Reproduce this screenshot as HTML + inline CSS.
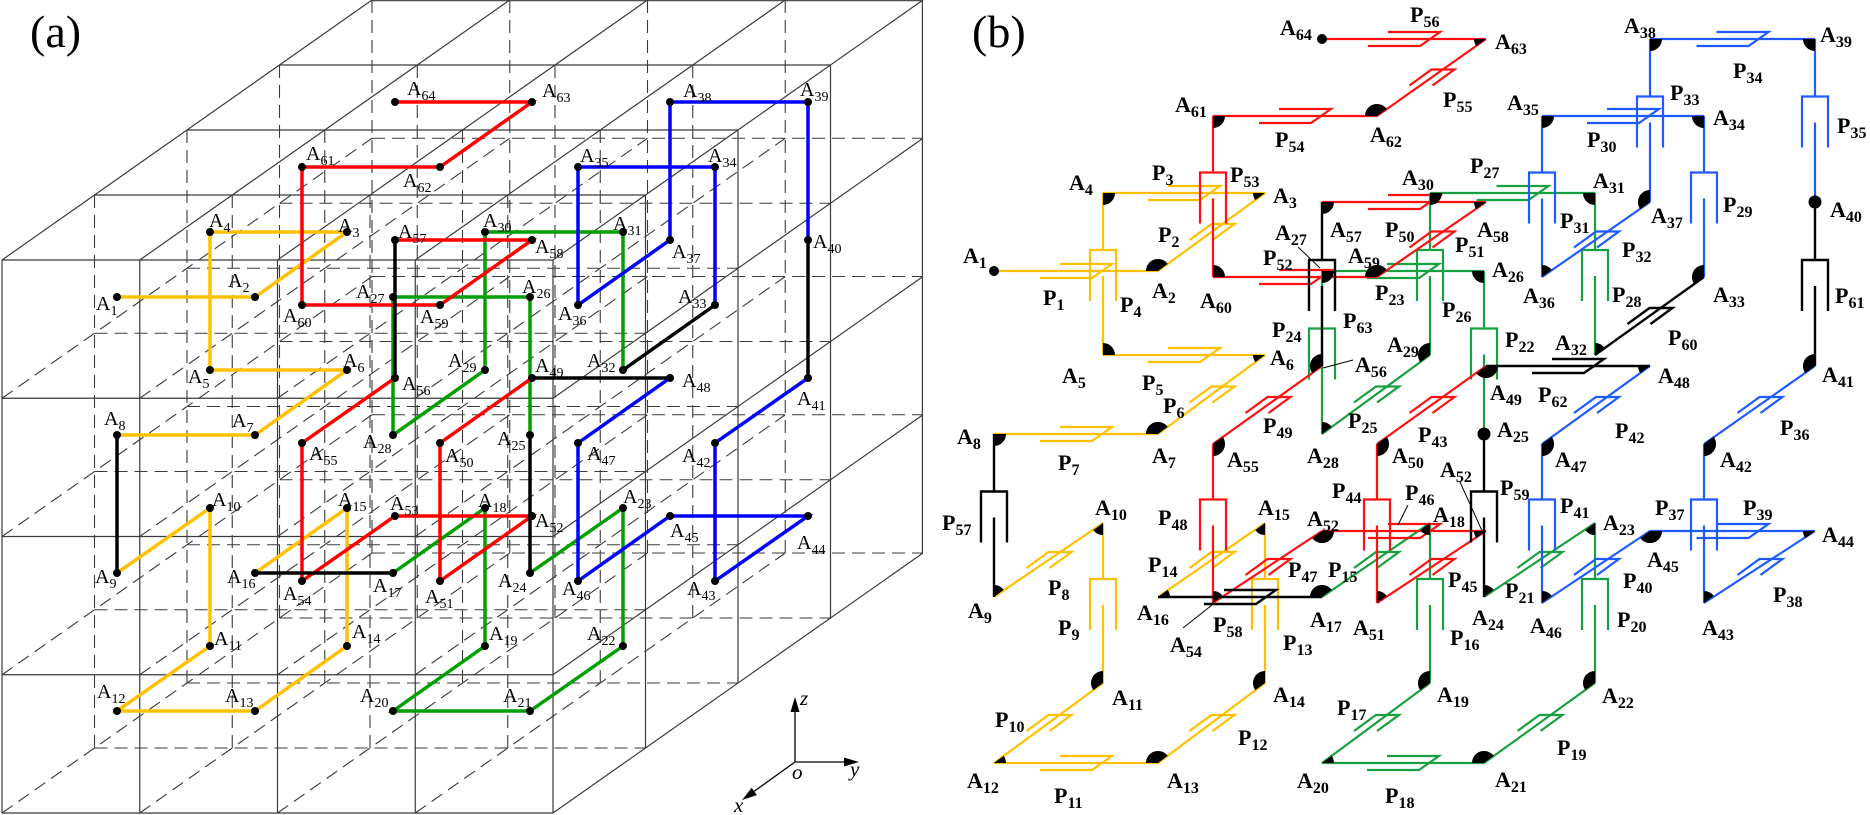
<!DOCTYPE html>
<html>
<head>
<meta charset="utf-8">
<style>
html,body{margin:0;padding:0;background:#fff;}
svg{display:block;}
.a{font-family:"Liberation Serif",serif;font-size:20px;fill:#000;}
.a tspan{font-size:14px;}
.b{font-family:"Liberation Serif",serif;font-size:22px;font-weight:bold;fill:#000;}
.b tspan{font-size:16px;}
.ax{font-family:"Liberation Serif",serif;font-size:21px;font-style:italic;fill:#000;}
.pl{font-family:"Liberation Serif",serif;font-size:46px;fill:#000;}
</style>
</head>
<body>
<svg width="1870" height="815" viewBox="0 0 1870 815" xmlns="http://www.w3.org/2000/svg">
<rect width="1870" height="815" fill="#fff"/>

<!-- ===== Panel (a) grid ===== -->
<g fill="none" stroke="#3a3a3a" stroke-width="1.1" stroke-dasharray="13 7">
<path d="M94.5 748H645.5M94.5 609.75H645.5M94.5 471.5H645.5M94.5 333.25H645.5
M187 683H738M187 544.75H738M187 406.5H738M187 268.25H738
M279.5 618H830.5M279.5 479.75H830.5M279.5 341.5H830.5M279.5 203.25H830.5
M372 553H923M372 414.75H923M372 276.5H923M372 138.25H923
M94.5 195V748M232.25 195V748M370 195V748M507.75 195V748
M187 130V683M324.75 130V683M462.5 130V683M600.25 130V683
M279.5 65V618M417.25 65V618M555 65V618M692.75 65V618
M372 0V553M509.75 0V553M647.5 0V553M785.25 0V553
M2 813l370 -260M2 674.75l370 -260M2 536.5l370 -260M2 398.25l370 -260
M139.75 813l370 -260M139.75 674.75l370 -260M139.75 536.5l370 -260M139.75 398.25l370 -260
M277.5 813l370 -260M277.5 674.75l370 -260M277.5 536.5l370 -260M277.5 398.25l370 -260
M415.25 813l370 -260M415.25 674.75l370 -260M415.25 536.5l370 -260M415.25 398.25l370 -260"/>
</g>
<g fill="none" stroke="#3a3a3a" stroke-width="1.2">
<path d="M2 260H553M2 398.25H553M2 536.5H553M2 674.75H553M2 813H553
M2 260V813M139.75 260V813M277.5 260V813M415.25 260V813M553 260V813
M94.5 195H645.5M187 130H738M279.5 65H830.5M372 0.7H923
M2 260l370 -260M139.75 260l370 -260M277.5 260l370 -260M415.25 260l370 -260M553 260l370 -260
M645.5 195V748M738 130V683M830.5 65V618M922.4 0V553
M553 813l370 -260M553 674.75l370 -260M553 536.5l370 -260M553 398.25l370 -260"/>
</g>

<!-- ===== Panel (a) paths ===== -->
<g fill="none" stroke-width="3.5" stroke-linejoin="miter">
<polyline stroke="#FFC000" points="117,297 255,297 347,232 210,232 210,370 347,370 255,435 117,435"/>
<polyline stroke="#FFC000" points="117,573 210,508 210,646 117,711 255,711 347,646 347,508 255,573"/>
<polyline stroke="#00A000" points="393,573 485,508 485,646 393,711 530,711 623,646 623,508 530,573"/>
<polyline stroke="#00A000" points="530,435 530,297 393,297 393,435 485,370 485,232 623,232 623,370"/>
<polyline stroke="#0000FF" points="715,305 715,167 578,167 578,305 670,240 670,102 808,102 808,240"/>
<polyline stroke="#0000FF" points="808,378 715,443 715,581 808,516 670,516 578,581 578,443 670,378"/>
<polyline stroke="#FF0000" points="532,378 440,443 440,581 532,516 395,516 302,581 302,443 395,378"/>
<polyline stroke="#FF0000" points="395,240 532,240 440,305 302,305 302,167 440,167 532,102 395,102"/>
<path stroke="#000" d="M117 435V573M255 573H393M530 573V435M623 370L715 305M808 240V378M670 378H532M395 378V240"/>
</g>
<g fill="#000">
<circle cx="117" cy="297" r="4"/><circle cx="255" cy="297" r="4"/><circle cx="347" cy="232" r="4"/><circle cx="210" cy="232" r="4"/>
<circle cx="210" cy="370" r="4"/><circle cx="347" cy="370" r="4"/><circle cx="255" cy="435" r="4"/><circle cx="117" cy="435" r="4"/>
<circle cx="117" cy="573" r="4"/><circle cx="210" cy="508" r="4"/><circle cx="210" cy="646" r="4"/><circle cx="117" cy="711" r="4"/>
<circle cx="255" cy="711" r="4"/><circle cx="347" cy="646" r="4"/><circle cx="347" cy="508" r="4"/><circle cx="255" cy="573" r="4"/>
<circle cx="393" cy="573" r="4"/><circle cx="485" cy="508" r="4"/><circle cx="485" cy="646" r="4"/><circle cx="393" cy="711" r="4"/>
<circle cx="530" cy="711" r="4"/><circle cx="623" cy="646" r="4"/><circle cx="623" cy="508" r="4"/><circle cx="530" cy="573" r="4"/>
<circle cx="530" cy="435" r="4"/><circle cx="530" cy="297" r="4"/><circle cx="393" cy="297" r="4"/><circle cx="393" cy="435" r="4"/>
<circle cx="485" cy="370" r="4"/><circle cx="485" cy="232" r="4"/><circle cx="623" cy="232" r="4"/><circle cx="623" cy="370" r="4"/>
<circle cx="715" cy="305" r="4"/><circle cx="715" cy="167" r="4"/><circle cx="578" cy="167" r="4"/><circle cx="578" cy="305" r="4"/>
<circle cx="670" cy="240" r="4"/><circle cx="670" cy="102" r="4"/><circle cx="808" cy="102" r="4"/><circle cx="808" cy="240" r="4"/>
<circle cx="808" cy="378" r="4"/><circle cx="715" cy="443" r="4"/><circle cx="715" cy="581" r="4"/><circle cx="808" cy="516" r="4"/>
<circle cx="670" cy="516" r="4"/><circle cx="578" cy="581" r="4"/><circle cx="578" cy="443" r="4"/><circle cx="670" cy="378" r="4"/>
<circle cx="532" cy="378" r="4"/><circle cx="440" cy="443" r="4"/><circle cx="440" cy="581" r="4"/><circle cx="532" cy="516" r="4"/>
<circle cx="395" cy="516" r="4"/><circle cx="302" cy="581" r="4"/><circle cx="302" cy="443" r="4"/><circle cx="395" cy="378" r="4"/>
<circle cx="395" cy="240" r="4"/><circle cx="532" cy="240" r="4"/><circle cx="440" cy="305" r="4"/><circle cx="302" cy="305" r="4"/>
<circle cx="302" cy="167" r="4"/><circle cx="440" cy="167" r="4"/><circle cx="532" cy="102" r="4"/><circle cx="395" cy="102" r="4"/>
</g>

<!-- axes -->
<path d="M795 762V710M795 762H846M795 762L754 791.4" stroke="#000" stroke-width="1.3" fill="none"/>
<path d="M795 697l-4.5 15h9zM859 762l-15 -4.5v9zM742 800L756.9 795.1L751.7 787.7z" fill="#000"/>
<text class="ax" x="800" y="705">z</text>
<text class="ax" x="792" y="779">o</text>
<text class="ax" x="850" y="776">y</text>
<text class="ax" x="734" y="812">x</text>

<text class="pl" x="30" y="47">(a)</text>

<!-- Panel (a) labels -->
<g class="a">
<text x="96" y="310">A<tspan dy="5">1</tspan></text>
<text x="228" y="287">A<tspan dy="5">2</tspan></text>
<text x="338" y="232">A<tspan dy="5">3</tspan></text>
<text x="209" y="227">A<tspan dy="5">4</tspan></text>
<text x="188" y="383">A<tspan dy="5">5</tspan></text>
<text x="343" y="367">A<tspan dy="5">6</tspan></text>
<text x="232" y="427">A<tspan dy="5">7</tspan></text>
<text x="104" y="425">A<tspan dy="5">8</tspan></text>
<text x="95" y="583">A<tspan dy="5">9</tspan></text>
<text x="212" y="506">A<tspan dy="5">10</tspan></text>
<text x="214" y="645">A<tspan dy="5">11</tspan></text>
<text x="97" y="698">A<tspan dy="5">12</tspan></text>
<text x="225" y="702">A<tspan dy="5">13</tspan></text>
<text x="352" y="638">A<tspan dy="5">14</tspan></text>
<text x="338" y="506">A<tspan dy="5">15</tspan></text>
<text x="227" y="583">A<tspan dy="5">16</tspan></text>
<text x="373" y="592">A<tspan dy="5">17</tspan></text>
<text x="478" y="507">A<tspan dy="5">18</tspan></text>
<text x="489" y="640">A<tspan dy="5">19</tspan></text>
<text x="360" y="702">A<tspan dy="5">20</tspan></text>
<text x="503" y="702">A<tspan dy="5">21</tspan></text>
<text x="587" y="640">A<tspan dy="5">22</tspan></text>
<text x="623" y="503">A<tspan dy="5">23</tspan></text>
<text x="498" y="587">A<tspan dy="5">24</tspan></text>
<text x="497" y="445">A<tspan dy="5">25</tspan></text>
<text x="522" y="293">A<tspan dy="5">26</tspan></text>
<text x="356" y="298">A<tspan dy="5">27</tspan></text>
<text x="363" y="448">A<tspan dy="5">28</tspan></text>
<text x="448" y="367">A<tspan dy="5">29</tspan></text>
<text x="483" y="227">A<tspan dy="5">30</tspan></text>
<text x="613" y="230">A<tspan dy="5">31</tspan></text>
<text x="587" y="367">A<tspan dy="5">32</tspan></text>
<text x="678" y="303">A<tspan dy="5">33</tspan></text>
<text x="708" y="162">A<tspan dy="5">34</tspan></text>
<text x="580" y="162">A<tspan dy="5">35</tspan></text>
<text x="558" y="320">A<tspan dy="5">36</tspan></text>
<text x="672" y="258">A<tspan dy="5">37</tspan></text>
<text x="683" y="97">A<tspan dy="5">38</tspan></text>
<text x="800" y="96">A<tspan dy="5">39</tspan></text>
<text x="813" y="248">A<tspan dy="5">40</tspan></text>
<text x="797" y="405">A<tspan dy="5">41</tspan></text>
<text x="682" y="462">A<tspan dy="5">42</tspan></text>
<text x="687" y="595">A<tspan dy="5">43</tspan></text>
<text x="797" y="549">A<tspan dy="5">44</tspan></text>
<text x="670" y="537">A<tspan dy="5">45</tspan></text>
<text x="562" y="595">A<tspan dy="5">46</tspan></text>
<text x="587" y="460">A<tspan dy="5">47</tspan></text>
<text x="682" y="387">A<tspan dy="5">48</tspan></text>
<text x="535" y="372">A<tspan dy="5">49</tspan></text>
<text x="445" y="462">A<tspan dy="5">50</tspan></text>
<text x="425" y="603">A<tspan dy="5">51</tspan></text>
<text x="535" y="527">A<tspan dy="5">52</tspan></text>
<text x="390" y="510">A<tspan dy="5">53</tspan></text>
<text x="283" y="600">A<tspan dy="5">54</tspan></text>
<text x="309" y="460">A<tspan dy="5">55</tspan></text>
<text x="402" y="390">A<tspan dy="5">56</tspan></text>
<text x="398" y="238">A<tspan dy="5">57</tspan></text>
<text x="535" y="253">A<tspan dy="5">58</tspan></text>
<text x="420" y="323">A<tspan dy="5">59</tspan></text>
<text x="283" y="322">A<tspan dy="5">60</tspan></text>
<text x="306" y="160">A<tspan dy="5">61</tspan></text>
<text x="403" y="187">A<tspan dy="5">62</tspan></text>
<text x="542" y="97">A<tspan dy="5">63</tspan></text>
<text x="407" y="95">A<tspan dy="5">64</tspan></text>
</g>

<!-- ===== Panel (b) ===== -->
<text class="pl" x="972" y="47">(b)</text>

<!-- yellow -->
<g fill="none" stroke="#FFC000" stroke-width="2.2">
<path d="M994 271H1158M1158 271L1265 193M1265 193H1103M1103 193V250M1103 276V355M1103 355H1265M1265 355L1158 434M1158 434H994
M994 597L1103 523M1103 523V579M1103 605V683M1103 683L994 763M994 763H1158M1158 763L1265 683M1265 523V579M1265 605V683M1265 523L1158 597"/>
<path d="M1060 264H1112L1092 278H1040
M1189.5 240L1211.5 224H1234.5L1212.5 240
M1168 186H1220L1200 200H1148
M1090 301V250H1116V301
M1168 348H1220L1200 362H1148
M1189.5 402.5L1211.5 386.5H1234.5L1212.5 402.5
M1060 427H1112L1092 441H1040
M1026.5 568L1048.5 552H1071.5L1049.5 568
M1090 630V579H1116V630
M1026.5 731L1048.5 715H1071.5L1049.5 731
M1060 756H1112L1092 770H1040
M1189.5 731L1211.5 715H1234.5L1212.5 731
M1252 630V579H1278V630
M1189.5 568L1211.5 552H1234.5L1212.5 568"/>
</g>

<!-- green -->
<g fill="none" stroke="#18A040" stroke-width="2.2">
<path d="M1322 597L1430 523M1430 523V579M1430 605V683M1430 683L1322 763M1322 763H1484M1484 763L1595 683M1595 523V579M1595 605V683M1595 523L1484 597
M1484 271V328.5M1484 354.5V434M1484 271H1322M1322 271V328.5M1322 354.5V434M1322 434L1430 355M1430 193V250M1430 276V355M1430 193H1595M1595 193V250M1595 276V355"/>
<path d="M1354 568L1376 552H1399L1377 568
M1417 630V579H1443V630
M1354 731L1376 715H1399L1377 731
M1387 756H1439L1419 770H1367
M1517.5 731L1539.5 715H1562.5L1540.5 731
M1582 630V579H1608V630
M1517.5 568L1539.5 552H1562.5L1540.5 568
M1471 379.5V328.5H1497V379.5
M1387 264H1439L1419 278H1367
M1309 379.5V328.5H1335V379.5
M1354 402.5L1376 386.5H1399L1377 402.5
M1417 301V250H1443V301
M1496.5 186H1548.5L1528.5 200H1476.5
M1582 301V250H1608V301"/>
</g>

<!-- blue -->
<g fill="none" stroke="#1E5AFF" stroke-width="2.2">
<path d="M1704 116V172.5M1704 198.5V277M1704 116H1542M1542 116V172.5M1542 198.5V277M1542 277L1650 202M1650 39V96.5M1650 122.5V202M1650 39H1815M1815 39V96.5M1815 122.5V202
M1815 366L1704 444M1704 444V499.5M1704 525.5V603M1704 603L1815 531M1815 531H1650M1650 531L1542 603M1542 444V499.5M1542 525.5V603M1542 444L1650 366"/>
<path d="M1691 223.5V172.5H1717V223.5
M1607 109H1659L1639 123H1587
M1529 223.5V172.5H1555V223.5
M1574 247.5L1596 231.5H1619L1597 247.5
M1637 147.5V96.5H1663V147.5
M1716.5 32H1768.5L1748.5 46H1696.5
M1802 147.5V96.5H1828V147.5
M1737.5 413L1759.5 397H1782.5L1760.5 413
M1691 550.5V499.5H1717V550.5
M1737.5 575L1759.5 559H1782.5L1760.5 575
M1716.5 524H1768.5L1748.5 538H1696.5
M1574 575L1596 559H1619L1597 575
M1529 550.5V499.5H1555V550.5
M1574 413L1596 397H1619L1597 413"/>
</g>

<!-- red -->
<g fill="none" stroke="#FF1010" stroke-width="2.2">
<path d="M1486 366L1377 444M1377 444V499.5M1377 525.5V603M1377 603L1486 531M1486 531H1322M1322 531L1213 603M1213 444V499.5M1213 525.5V603M1213 444L1322 366
M1322 202H1486M1486 202L1377 277M1377 277H1213M1213 116V172.5M1213 198.5V277M1213 116H1377M1377 116L1486 39M1486 39H1322"/>
<path d="M1409.5 413L1431.5 397H1454.5L1432.5 413
M1364 550.5V499.5H1390V550.5
M1409.5 575L1431.5 559H1454.5L1432.5 575
M1388 524H1440L1420 538H1368
M1245.5 575L1267.5 559H1290.5L1268.5 575
M1200 550.5V499.5H1226V550.5
M1245.5 413L1267.5 397H1290.5L1268.5 413
M1388 195H1440L1420 209H1368
M1409.5 247.5L1431.5 231.5H1454.5L1432.5 247.5
M1279 270H1331L1311 284H1259
M1200 223.5V172.5H1226V223.5
M1279 109H1331L1311 123H1259
M1409.5 85.5L1431.5 69.5H1454.5L1432.5 85.5
M1388 32H1440L1420 46H1368"/>
</g>

<!-- black links & joints -->
<g fill="none" stroke="#000" stroke-width="2.4">
<path d="M994 434V491.5M994 517.5V597M1158 597H1322M1484 434V491.5M1484 517.5V597M1595 355L1704 277M1815 202V260M1815 286V366M1650 366H1486M1322 202V260M1322 286V366"/>
<path d="M981 542.5V491.5H1007V542.5
M1224 590H1276L1256 604H1204
M1471 542.5V491.5H1497V542.5
M1627.5 324L1649.5 308H1672.5L1650.5 324
M1802 311V260H1828V311
M1552 359H1604L1584 373H1532
M1309 311V260H1335V311"/>
</g>

<!-- leader lines -->
<path d="M1298 247L1320 268M1353 360L1323 368M1183 628L1212 605M1460 482L1483 533M1408 505L1398 525" stroke="#000" stroke-width="1" fill="none"/>

<!-- node markers -->
<g fill="#000">
<circle cx="994" cy="271" r="5"/>
<circle cx="1322" cy="39" r="5"/>
<circle cx="1484" cy="434" r="6.5"/>
<circle cx="1815" cy="202" r="6.5"/>
<path d="M1158 271l-12 0a12 12 0 0 1 21.7 -7.1z
M1265 193l-9.7 7.1a12 12 0 0 1 -2.3 -7.1z
M1103 193l12 0a12 12 0 0 1 -12 12z
M1103 355l0 -12a12 12 0 0 1 12 12z
M1265 355l-9.7 7.1a12 12 0 0 1 -2.3 -7.1z
M1158 434l-12 0a12 12 0 0 1 21.7 -7.1z
M994 434l12 0a12 12 0 0 1 -12 12z
M994 597l0 -12a12 12 0 0 1 9.7 4.9z
M1103 523l0 12a12 12 0 0 1 -9.7 -4.9z
M1103 683l-9.7 7.1a12 12 0 0 1 9.7 -19.1z
M994 763l9.7 -7.1a12 12 0 0 1 2.3 7.1z
M1158 763l-12 0a12 12 0 0 1 21.7 -7.1z
M1265 683l-9.7 7.1a12 12 0 0 1 9.7 -19.1z
M1265 523l0 12a12 12 0 0 1 -9.7 -4.9z
M1158 597l9.7 -7.1a12 12 0 0 1 2.3 7.1z
M1322 597l-12 0a12 12 0 0 1 21.7 -7.1z
M1430 523l0 12a12 12 0 0 1 -9.7 -4.9z
M1430 683l-9.7 7.1a12 12 0 0 1 9.7 -19.1z
M1322 763l9.7 -7.1a12 12 0 0 1 2.3 7.1z
M1484 763l-12 0a12 12 0 0 1 21.7 -7.1z
M1595 683l-9.7 7.1a12 12 0 0 1 9.7 -19.1z
M1595 523l0 12a12 12 0 0 1 -9.7 -4.9z
M1484 597l0 -12a12 12 0 0 1 9.7 4.9z
M1484 271l0 12a12 12 0 0 1 -12 -12z
M1322 271l12 0a12 12 0 0 1 -12 12z
M1322 434l0 -12a12 12 0 0 1 9.7 4.9z
M1430 355l-9.7 7.1a12 12 0 0 1 9.7 -19.1z
M1430 193l12 0a12 12 0 0 1 -12 12z
M1595 193l0 12a12 12 0 0 1 -12 -12z
M1595 355l0 -12a12 12 0 0 1 9.7 4.9z
M1704 277l-9.7 7.1a12 12 0 0 1 9.7 -19.1z
M1704 116l0 12a12 12 0 0 1 -12 -12z
M1542 116l12 0a12 12 0 0 1 -12 12z
M1542 277l0 -12a12 12 0 0 1 9.7 4.9z
M1650 202l-9.7 7.1a12 12 0 0 1 9.7 -19.1z
M1650 39l12 0a12 12 0 0 1 -12 12z
M1815 39l0 12a12 12 0 0 1 -12 -12z
M1815 366l-9.7 7.1a12 12 0 0 1 9.7 -19.1z
M1704 444l9.7 -7.1a12 12 0 0 1 -9.7 19.1z
M1704 603l0 -12a12 12 0 0 1 9.7 4.9z
M1815 531l-9.7 7.1a12 12 0 0 1 -2.3 -7.1z
M1650 531l12 0a12 12 0 0 1 -21.7 7.1z
M1542 603l0 -12a12 12 0 0 1 9.7 4.9z
M1542 444l9.7 -7.1a12 12 0 0 1 -9.7 19.1z
M1650 366l-9.7 7.1a12 12 0 0 1 -2.3 -7.1z
M1486 366l12 0a12 12 0 0 1 -21.7 7.1z
M1377 444l9.7 -7.1a12 12 0 0 1 -9.7 19.1z
M1377 603l0 -12a12 12 0 0 1 9.7 4.9z
M1486 531l-9.7 7.1a12 12 0 0 1 -2.3 -7.1z
M1322 531l12 0a12 12 0 0 1 -21.7 7.1z
M1213 603l0 -12a12 12 0 0 1 9.7 4.9z
M1213 444l9.7 -7.1a12 12 0 0 1 -9.7 19.1z
M1322 366l-9.7 7.1a12 12 0 0 1 9.7 -19.1z
M1322 202l12 0a12 12 0 0 1 -12 12z
M1486 202l-9.7 7.1a12 12 0 0 1 -2.3 -7.1z
M1377 277l-12 0a12 12 0 0 1 21.7 -7.1z
M1213 277l0 -12a12 12 0 0 1 12 12z
M1213 116l12 0a12 12 0 0 1 -12 12z
M1377 116l-12 0a12 12 0 0 1 21.7 -7.1z
M1486 39l-9.7 7.1a12 12 0 0 1 -2.3 -7.1z"/>
</g>

<!-- Panel (b) A labels -->
<g class="b">
<text x="963" y="263">A<tspan dy="5">1</tspan></text>
<text x="1152" y="298">A<tspan dy="5">2</tspan></text>
<text x="1273" y="203">A<tspan dy="5">3</tspan></text>
<text x="1069" y="190">A<tspan dy="5">4</tspan></text>
<text x="1062" y="383">A<tspan dy="5">5</tspan></text>
<text x="1270" y="365">A<tspan dy="5">6</tspan></text>
<text x="1152" y="463">A<tspan dy="5">7</tspan></text>
<text x="957" y="444">A<tspan dy="5">8</tspan></text>
<text x="968" y="618">A<tspan dy="5">9</tspan></text>
<text x="1095" y="515">A<tspan dy="5">10</tspan></text>
<text x="1112" y="705">A<tspan dy="5">11</tspan></text>
<text x="967" y="788">A<tspan dy="5">12</tspan></text>
<text x="1167" y="788">A<tspan dy="5">13</tspan></text>
<text x="1273" y="702">A<tspan dy="5">14</tspan></text>
<text x="1258" y="515">A<tspan dy="5">15</tspan></text>
<text x="1137" y="620">A<tspan dy="5">16</tspan></text>
<text x="1310" y="627">A<tspan dy="5">17</tspan></text>
<text x="1433" y="522">A<tspan dy="5">18</tspan></text>
<text x="1437" y="702">A<tspan dy="5">19</tspan></text>
<text x="1297" y="788">A<tspan dy="5">20</tspan></text>
<text x="1495" y="787">A<tspan dy="5">21</tspan></text>
<text x="1602" y="703">A<tspan dy="5">22</tspan></text>
<text x="1603" y="530">A<tspan dy="5">23</tspan></text>
<text x="1472" y="625">A<tspan dy="5">24</tspan></text>
<text x="1497" y="437">A<tspan dy="5">25</tspan></text>
<text x="1492" y="277">A<tspan dy="5">26</tspan></text>
<text x="1275" y="240">A<tspan dy="5">27</tspan></text>
<text x="1307" y="463">A<tspan dy="5">28</tspan></text>
<text x="1387" y="352">A<tspan dy="5">29</tspan></text>
<text x="1402" y="185">A<tspan dy="5">30</tspan></text>
<text x="1593" y="188">A<tspan dy="5">31</tspan></text>
<text x="1555" y="350">A<tspan dy="5">32</tspan></text>
<text x="1713" y="302">A<tspan dy="5">33</tspan></text>
<text x="1713" y="125">A<tspan dy="5">34</tspan></text>
<text x="1507" y="110">A<tspan dy="5">35</tspan></text>
<text x="1523" y="303">A<tspan dy="5">36</tspan></text>
<text x="1651" y="223">A<tspan dy="5">37</tspan></text>
<text x="1624" y="33">A<tspan dy="5">38</tspan></text>
<text x="1820" y="42">A<tspan dy="5">39</tspan></text>
<text x="1830" y="217">A<tspan dy="5">40</tspan></text>
<text x="1822" y="382">A<tspan dy="5">41</tspan></text>
<text x="1720" y="467">A<tspan dy="5">42</tspan></text>
<text x="1702" y="635">A<tspan dy="5">43</tspan></text>
<text x="1822" y="542">A<tspan dy="5">44</tspan></text>
<text x="1647" y="567">A<tspan dy="5">45</tspan></text>
<text x="1530" y="633">A<tspan dy="5">46</tspan></text>
<text x="1555" y="467">A<tspan dy="5">47</tspan></text>
<text x="1658" y="383">A<tspan dy="5">48</tspan></text>
<text x="1490" y="400">A<tspan dy="5">49</tspan></text>
<text x="1392" y="463">A<tspan dy="5">50</tspan></text>
<text x="1353" y="635">A<tspan dy="5">51</tspan></text>
<text x="1440" y="477">A<tspan dy="5">52</tspan></text>
<text x="1307" y="526">A<tspan dy="5">52</tspan></text>
<text x="1170" y="652">A<tspan dy="5">54</tspan></text>
<text x="1227" y="467">A<tspan dy="5">55</tspan></text>
<text x="1355" y="372">A<tspan dy="5">56</tspan></text>
<text x="1330" y="237">A<tspan dy="5">57</tspan></text>
<text x="1477" y="237">A<tspan dy="5">58</tspan></text>
<text x="1348" y="263">A<tspan dy="5">59</tspan></text>
<text x="1200" y="308">A<tspan dy="5">60</tspan></text>
<text x="1175" y="112">A<tspan dy="5">61</tspan></text>
<text x="1370" y="142">A<tspan dy="5">62</tspan></text>
<text x="1495" y="49">A<tspan dy="5">63</tspan></text>
<text x="1280" y="35">A<tspan dy="5">64</tspan></text>
</g>

<!-- Panel (b) P labels -->
<g class="b">
<text x="1043" y="305">P<tspan dy="5">1</tspan></text>
<text x="1158" y="242">P<tspan dy="5">2</tspan></text>
<text x="1152" y="180">P<tspan dy="5">3</tspan></text>
<text x="1120" y="312">P<tspan dy="5">4</tspan></text>
<text x="1142" y="390">P<tspan dy="5">5</tspan></text>
<text x="1163" y="413">P<tspan dy="5">6</tspan></text>
<text x="1058" y="470">P<tspan dy="5">7</tspan></text>
<text x="1048" y="595">P<tspan dy="5">8</tspan></text>
<text x="1058" y="635">P<tspan dy="5">9</tspan></text>
<text x="995" y="727">P<tspan dy="5">10</tspan></text>
<text x="1054" y="803">P<tspan dy="5">11</tspan></text>
<text x="1238" y="745">P<tspan dy="5">12</tspan></text>
<text x="1283" y="650">P<tspan dy="5">13</tspan></text>
<text x="1148" y="572">P<tspan dy="5">14</tspan></text>
<text x="1328" y="577">P<tspan dy="5">15</tspan></text>
<text x="1450" y="645">P<tspan dy="5">16</tspan></text>
<text x="1337" y="715">P<tspan dy="5">17</tspan></text>
<text x="1385" y="803">P<tspan dy="5">18</tspan></text>
<text x="1557" y="755">P<tspan dy="5">19</tspan></text>
<text x="1617" y="627">P<tspan dy="5">20</tspan></text>
<text x="1505" y="598">P<tspan dy="5">21</tspan></text>
<text x="1505" y="347">P<tspan dy="5">22</tspan></text>
<text x="1375" y="300">P<tspan dy="5">23</tspan></text>
<text x="1272" y="337">P<tspan dy="5">24</tspan></text>
<text x="1348" y="428">P<tspan dy="5">25</tspan></text>
<text x="1442" y="317">P<tspan dy="5">26</tspan></text>
<text x="1470" y="173">P<tspan dy="5">27</tspan></text>
<text x="1612" y="302">P<tspan dy="5">28</tspan></text>
<text x="1723" y="212">P<tspan dy="5">29</tspan></text>
<text x="1587" y="147">P<tspan dy="5">30</tspan></text>
<text x="1560" y="228">P<tspan dy="5">31</tspan></text>
<text x="1622" y="257">P<tspan dy="5">32</tspan></text>
<text x="1670" y="100">P<tspan dy="5">33</tspan></text>
<text x="1733" y="78">P<tspan dy="5">34</tspan></text>
<text x="1837" y="133">P<tspan dy="5">35</tspan></text>
<text x="1780" y="435">P<tspan dy="5">36</tspan></text>
<text x="1655" y="515">P<tspan dy="5">37</tspan></text>
<text x="1773" y="602">P<tspan dy="5">38</tspan></text>
<text x="1743" y="515">P<tspan dy="5">39</tspan></text>
<text x="1623" y="588">P<tspan dy="5">40</tspan></text>
<text x="1560" y="513">P<tspan dy="5">41</tspan></text>
<text x="1615" y="438">P<tspan dy="5">42</tspan></text>
<text x="1418" y="442">P<tspan dy="5">43</tspan></text>
<text x="1332" y="498">P<tspan dy="5">44</tspan></text>
<text x="1448" y="587">P<tspan dy="5">45</tspan></text>
<text x="1405" y="500">P<tspan dy="5">46</tspan></text>
<text x="1288" y="577">P<tspan dy="5">47</tspan></text>
<text x="1158" y="525">P<tspan dy="5">48</tspan></text>
<text x="1263" y="433">P<tspan dy="5">49</tspan></text>
<text x="1385" y="237">P<tspan dy="5">50</tspan></text>
<text x="1455" y="252">P<tspan dy="5">51</tspan></text>
<text x="1263" y="265">P<tspan dy="5">52</tspan></text>
<text x="1230" y="182">P<tspan dy="5">53</tspan></text>
<text x="1275" y="147">P<tspan dy="5">54</tspan></text>
<text x="1443" y="107">P<tspan dy="5">55</tspan></text>
<text x="1410" y="22">P<tspan dy="5">56</tspan></text>
<text x="942" y="530">P<tspan dy="5">57</tspan></text>
<text x="1213" y="632">P<tspan dy="5">58</tspan></text>
<text x="1500" y="495">P<tspan dy="5">59</tspan></text>
<text x="1668" y="345">P<tspan dy="5">60</tspan></text>
<text x="1835" y="303">P<tspan dy="5">61</tspan></text>
<text x="1538" y="402">P<tspan dy="5">62</tspan></text>
<text x="1343" y="328">P<tspan dy="5">63</tspan></text>
</g>
</svg>
</body>
</html>
